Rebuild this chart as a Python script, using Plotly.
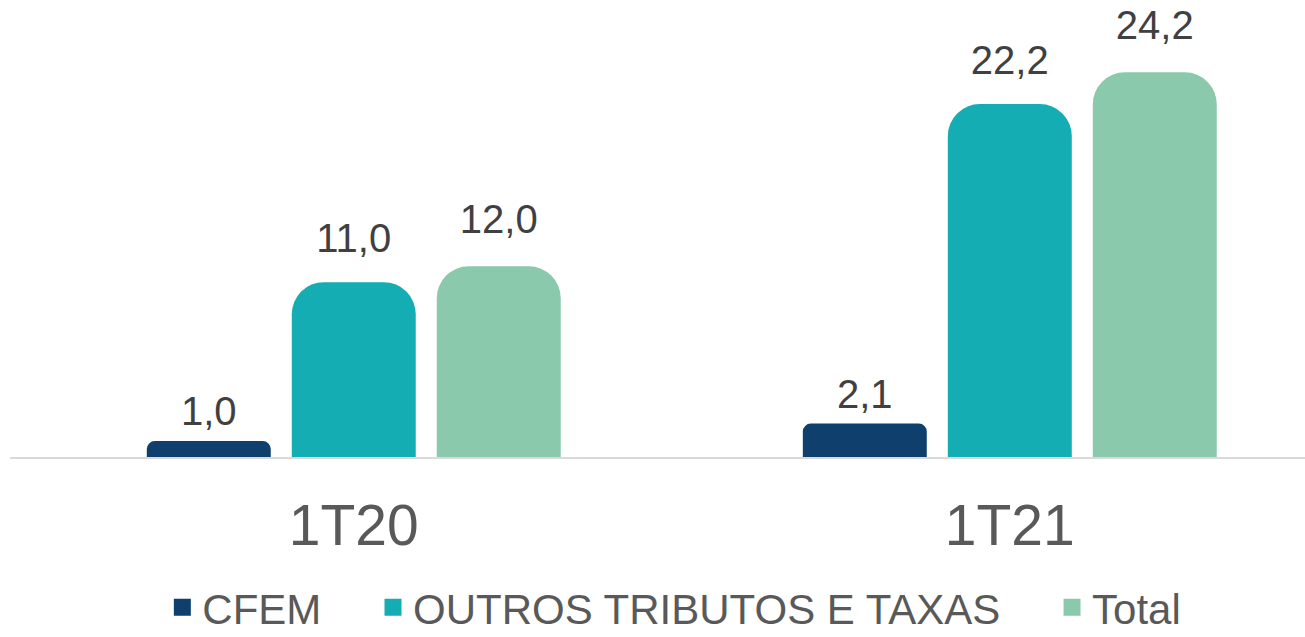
import plotly.graph_objects as go

categories = ["1T20", "1T21"]
series_names = ["CFEM", "OUTROS TRIBUTOS E TAXAS", "Total"]
cfem = [1.0, 2.1]
outros = [11.0, 22.2]
total = [12.0, 24.2]
colors = ["#0E3F6D", "#13ADB3", "#8BC9AC"]

values = [cfem, outros, total]
radii = [8, 32, 32]
label_gap_sizes = [8, 30, 36]
pad = "\u00a0" * 4

fig = go.Figure()
for i, (name, vals, col) in enumerate(zip(series_names, values, colors)):
    fig.add_trace(go.Bar(
        x=categories, y=vals, name=name,
        marker=dict(color=col, cornerradius=radii[i], line=dict(width=0)),
        offsetgroup=str(i), alignmentgroup="a",
        showlegend=False, hoverinfo="skip",
    ))
# legend-only entries (no data drawn), with bigger legend swatches
for i, (name, col) in enumerate(zip(series_names, colors)):
    fig.add_trace(go.Bar(
        x=categories, y=[None, None], name=name + (pad if i < 2 else ""),
        marker=dict(color=col, line=dict(width=8, color=col)),
        offsetgroup=str(i), alignmentgroup="a",
        hoverinfo="skip",
    ))
for i, (name, vals) in enumerate(zip(series_names, values)):
    fig.add_trace(go.Scatter(
        x=categories, y=vals, mode="markers+text",
        marker=dict(size=label_gap_sizes[i], opacity=0),
        texttemplate="%{y:.1f}", textposition="top center",
        textfont=dict(family="Liberation Sans, Arial", size=40, color="#404040"),
        offsetgroup=str(i), alignmentgroup="a",
        showlegend=False, hoverinfo="skip", cliponaxis=False,
    ))

fig.update_layout(
    width=1305, height=637,
    margin=dict(l=10, r=0, t=0, b=180, autoexpand=False),
    paper_bgcolor="white", plot_bgcolor="white",
    barmode="group", scattermode="group",
    bargap=0.337, bargroupgap=0.145,
    separators=",.",
    showlegend=True,
    legend=dict(orientation="h", x=0.513, xanchor="center", y=-0.255, yanchor="top",
                font=dict(family="Liberation Sans, Arial", size=42, color="#595959"),
                itemwidth=30, traceorder="normal"),
    xaxis=dict(range=[-0.524, 1.45], showline=True, linecolor="#D9D9D9", linewidth=2,
               ticks="outside", ticklen=18, tickcolor="rgba(0,0,0,0)",
               tickfont=dict(family="Liberation Sans, Arial", size=57, color="#595959"),
               showgrid=False, zeroline=False, fixedrange=True),
    yaxis=dict(range=[0, 28.75], visible=False, showgrid=False, zeroline=False, fixedrange=True),
    font=dict(family="Liberation Sans, Arial"),
)

fig.write_html("out.html", config={"displayModeBar": False},
               post_script="document.body.style.margin='0';")
